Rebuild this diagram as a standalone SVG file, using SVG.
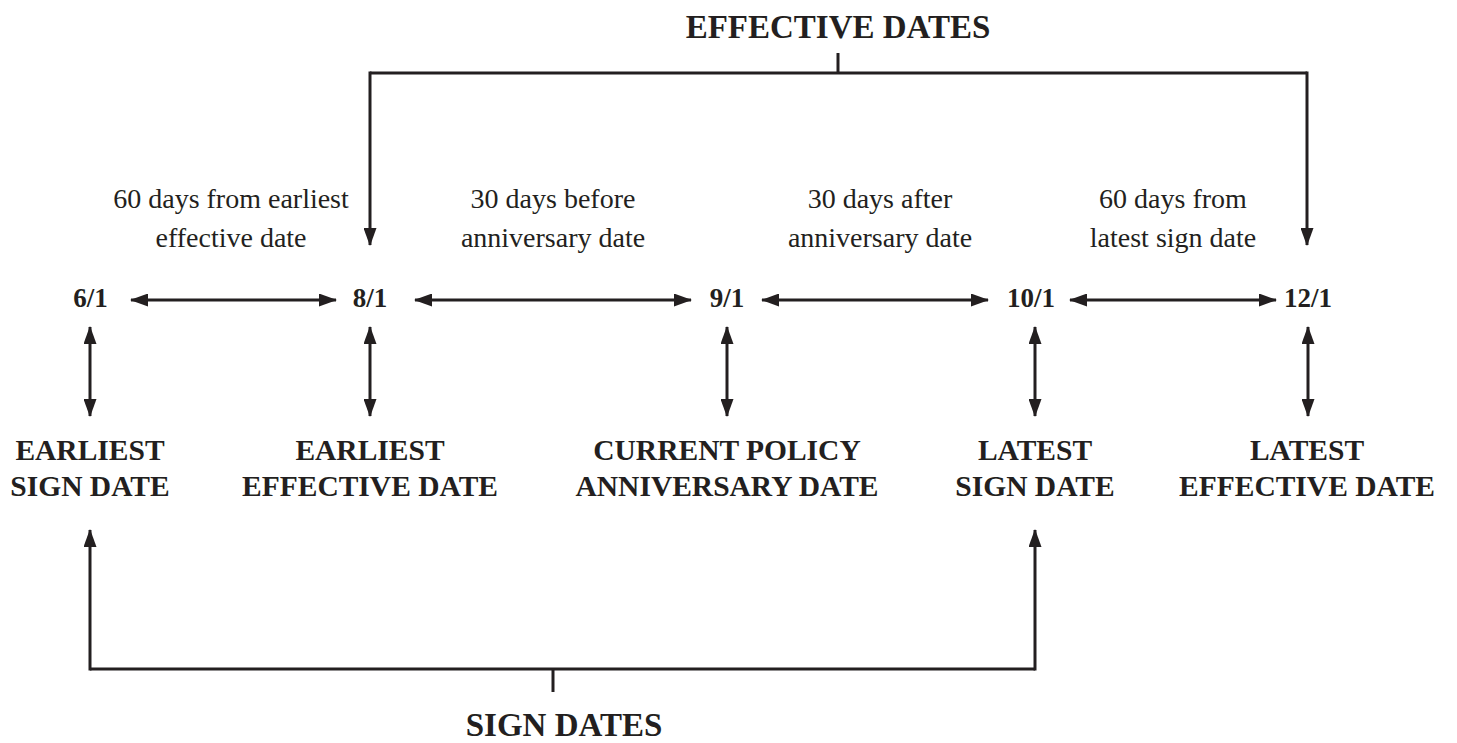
<svg xmlns="http://www.w3.org/2000/svg" width="1457" height="743" viewBox="0 0 1457 743">
<style>
.ln{fill:none;stroke:#231f20;stroke-width:3}
.arr{marker-end:url(#ah)}
.dbl{marker-start:url(#ah);marker-end:url(#ah)}
.t{font-family:"Liberation Serif",serif;fill:#231f20;text-anchor:middle}
.hd{font-size:33px;font-weight:bold}
.lbl{font-size:29.5px;font-weight:bold}
.dt{font-size:27px;font-weight:bold}
.an{font-size:28px}
</style>
<defs>
<marker id="ah" markerUnits="userSpaceOnUse" markerWidth="18" markerHeight="13" refX="17" refY="6.5" orient="auto-start-reverse" viewBox="0 0 18 13">
<path d="M0,0 L18,6.5 L0,13 Z" fill="#231f20"/>
</marker>
</defs>
<rect width="1457" height="743" fill="#fff"/>
<g id="connectors">
<path class="ln" d="M838,53 V73"/>
<path class="ln" d="M370,73 H1307"/>
<path class="ln arr" d="M370,71.5 V245"/>
<path class="ln arr" d="M1307,71.5 V245"/>
<path class="ln dbl" d="M131,300 H336"/>
<path class="ln dbl" d="M415,300 H691"/>
<path class="ln dbl" d="M762,300 H988"/>
<path class="ln dbl" d="M1070,300 H1276"/>
<path class="ln dbl" d="M90,327 V416"/>
<path class="ln dbl" d="M370,327 V416"/>
<path class="ln dbl" d="M727,327 V416"/>
<path class="ln dbl" d="M1035,327 V416"/>
<path class="ln dbl" d="M1308,327 V416"/>
<path class="ln arr" d="M90,670.5 V530"/>
<path class="ln arr" d="M1035,670.5 V530"/>
<path class="ln" d="M90,669 H1035"/>
<path class="ln" d="M553,669 V692"/>
</g>
<g id="effective-dates"><text class="t hd" x="838" y="38">EFFECTIVE DATES</text></g>
<g id="sign-dates"><text class="t hd" x="564" y="736">SIGN DATES</text></g>
<g id="ann-1"><text class="t an" x="231" y="208">60 days from earliest</text><text class="t an" x="231" y="247">effective date</text></g>
<g id="ann-2"><text class="t an" x="553" y="208">30 days before</text><text class="t an" x="553" y="247">anniversary date</text></g>
<g id="ann-3"><text class="t an" x="880" y="208">30 days after</text><text class="t an" x="880" y="247">anniversary date</text></g>
<g id="ann-4"><text class="t an" x="1173" y="208">60 days from</text><text class="t an" x="1173" y="247">latest sign date</text></g>
<g id="d-6-1"><text class="t dt" x="90.5" y="307">6/1</text></g>
<g id="d-8-1"><text class="t dt" x="370" y="307">8/1</text></g>
<g id="d-9-1"><text class="t dt" x="727" y="307">9/1</text></g>
<g id="d-10-1"><text class="t dt" x="1031" y="307">10/1</text></g>
<g id="d-12-1"><text class="t dt" x="1308" y="307">12/1</text></g>
<g id="n-earliest-sign"><text class="t lbl" x="90" y="460">EARLIEST</text><text class="t lbl" x="90" y="496">SIGN DATE</text></g>
<g id="n-earliest-effective"><text class="t lbl" x="370" y="460">EARLIEST</text><text class="t lbl" x="370" y="496">EFFECTIVE DATE</text></g>
<g id="n-anniversary"><text class="t lbl" x="727" y="460">CURRENT POLICY</text><text class="t lbl" x="727" y="496">ANNIVERSARY DATE</text></g>
<g id="n-latest-sign"><text class="t lbl" x="1035" y="460">LATEST</text><text class="t lbl" x="1035" y="496">SIGN DATE</text></g>
<g id="n-latest-effective"><text class="t lbl" x="1307" y="460">LATEST</text><text class="t lbl" x="1307" y="496">EFFECTIVE DATE</text></g>
</svg>
